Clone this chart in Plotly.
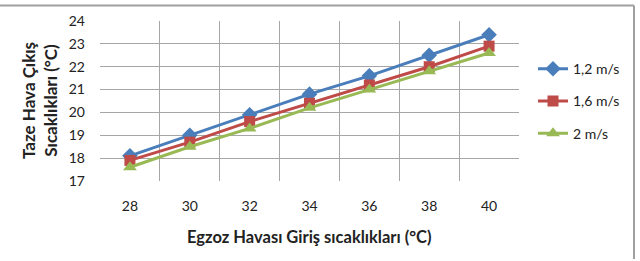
import plotly.graph_objects as go

x_vals = [28, 30, 32, 34, 36, 38, 40]
s12 = [18.1, 19.0, 19.9, 20.8, 21.6, 22.5, 23.4]
s16 = [17.9, 18.7, 19.6, 20.4, 21.2, 22.0, 22.9]
s20 = [17.6, 18.5, 19.3, 20.2, 21.0, 21.8, 22.6]
names = ["1,2 m/s", "1,6 m/s", "2 m/s"]
colors = ["#4A7EBB", "#BE4B48", "#98B954"]
symbols = ["diamond", "square", "triangle-up"]
FONT = "Lato"

fig = go.Figure()
for ys, n, c, s in zip([s12, s16, s20], names, colors, symbols):
    fig.add_trace(go.Scatter(
        x=x_vals, y=ys, name=n, mode="lines+markers",
        line=dict(color=c, width=3),
        marker=dict(symbol=s, size=12 if s != "square" else 11, color=c),
        legendgroup=n,
    ))

W, H = 640, 261
L, R, T, B = 100, 121, 17, 80
pw, ph = W - L - R, H - T - B

fig.update_layout(
    width=W, height=H,
    margin=dict(l=L, r=R, t=T, b=B),
    paper_bgcolor="white", plot_bgcolor="white",
    font=dict(family=FONT, size=14, color="#222"),
    showlegend=True,
    legend=dict(x=(533 - L) / pw, y=(H - B - 50) / ph, xanchor="left", yanchor="top",
                tracegroupgap=11, font=dict(size=14, family=FONT),
                bgcolor="rgba(0,0,0,0)", itemwidth=30),
    xaxis=dict(range=[27, 41], tickvals=x_vals, ticktext=[str(v) for v in x_vals],
               showgrid=False, zeroline=False, showline=False, ticks="",
               ticklabelstandoff=15, tickfont=dict(size=14),
               minor=dict(tickvals=[27, 29, 31, 33, 35, 37, 39, 41], showgrid=True,
                          gridcolor="#A6A6A6", gridwidth=1, ticks="")),
    yaxis=dict(range=[17, 24], dtick=1, showgrid=True, gridcolor="#A6A6A6", gridwidth=1,
               zeroline=False, showline=False, ticks="", ticklabelstandoff=14,
               tickfont=dict(size=14)),
    annotations=[
        dict(text="<b>Egzoz Havası Giriş sıcaklıkları (°C)</b>", xref="paper", yref="paper",
             x=0.5, y=-(238 - (H - B)) / ph, xanchor="center", yanchor="middle",
             showarrow=False, font=dict(size=16.5, family=FONT)),
        dict(text="<b>Taze Hava Çıkış<br>Sıcaklıkları (°C)</b>", xref="paper", yref="paper",
             x=-(L - 39) / pw, y=0.5, xanchor="center", yanchor="middle", textangle=-90,
             showarrow=False, font=dict(size=17, family=FONT)),
    ],
    shapes=[
        dict(type="line", xref="paper", yref="paper", x0=-L / pw, x1=(634 - L) / pw,
             y0=(H - B - 1) / ph, y1=(H - B - 1) / ph, line=dict(color="#A0A0A0", width=2)),
        dict(type="line", xref="paper", yref="paper", x0=(634 - L) / pw, x1=(634 - L) / pw,
             y0=(H - B - 1) / ph, y1=-B / ph, line=dict(color="#A0A0A0", width=2)),
    ],
)

fig.write_html("out.html")
